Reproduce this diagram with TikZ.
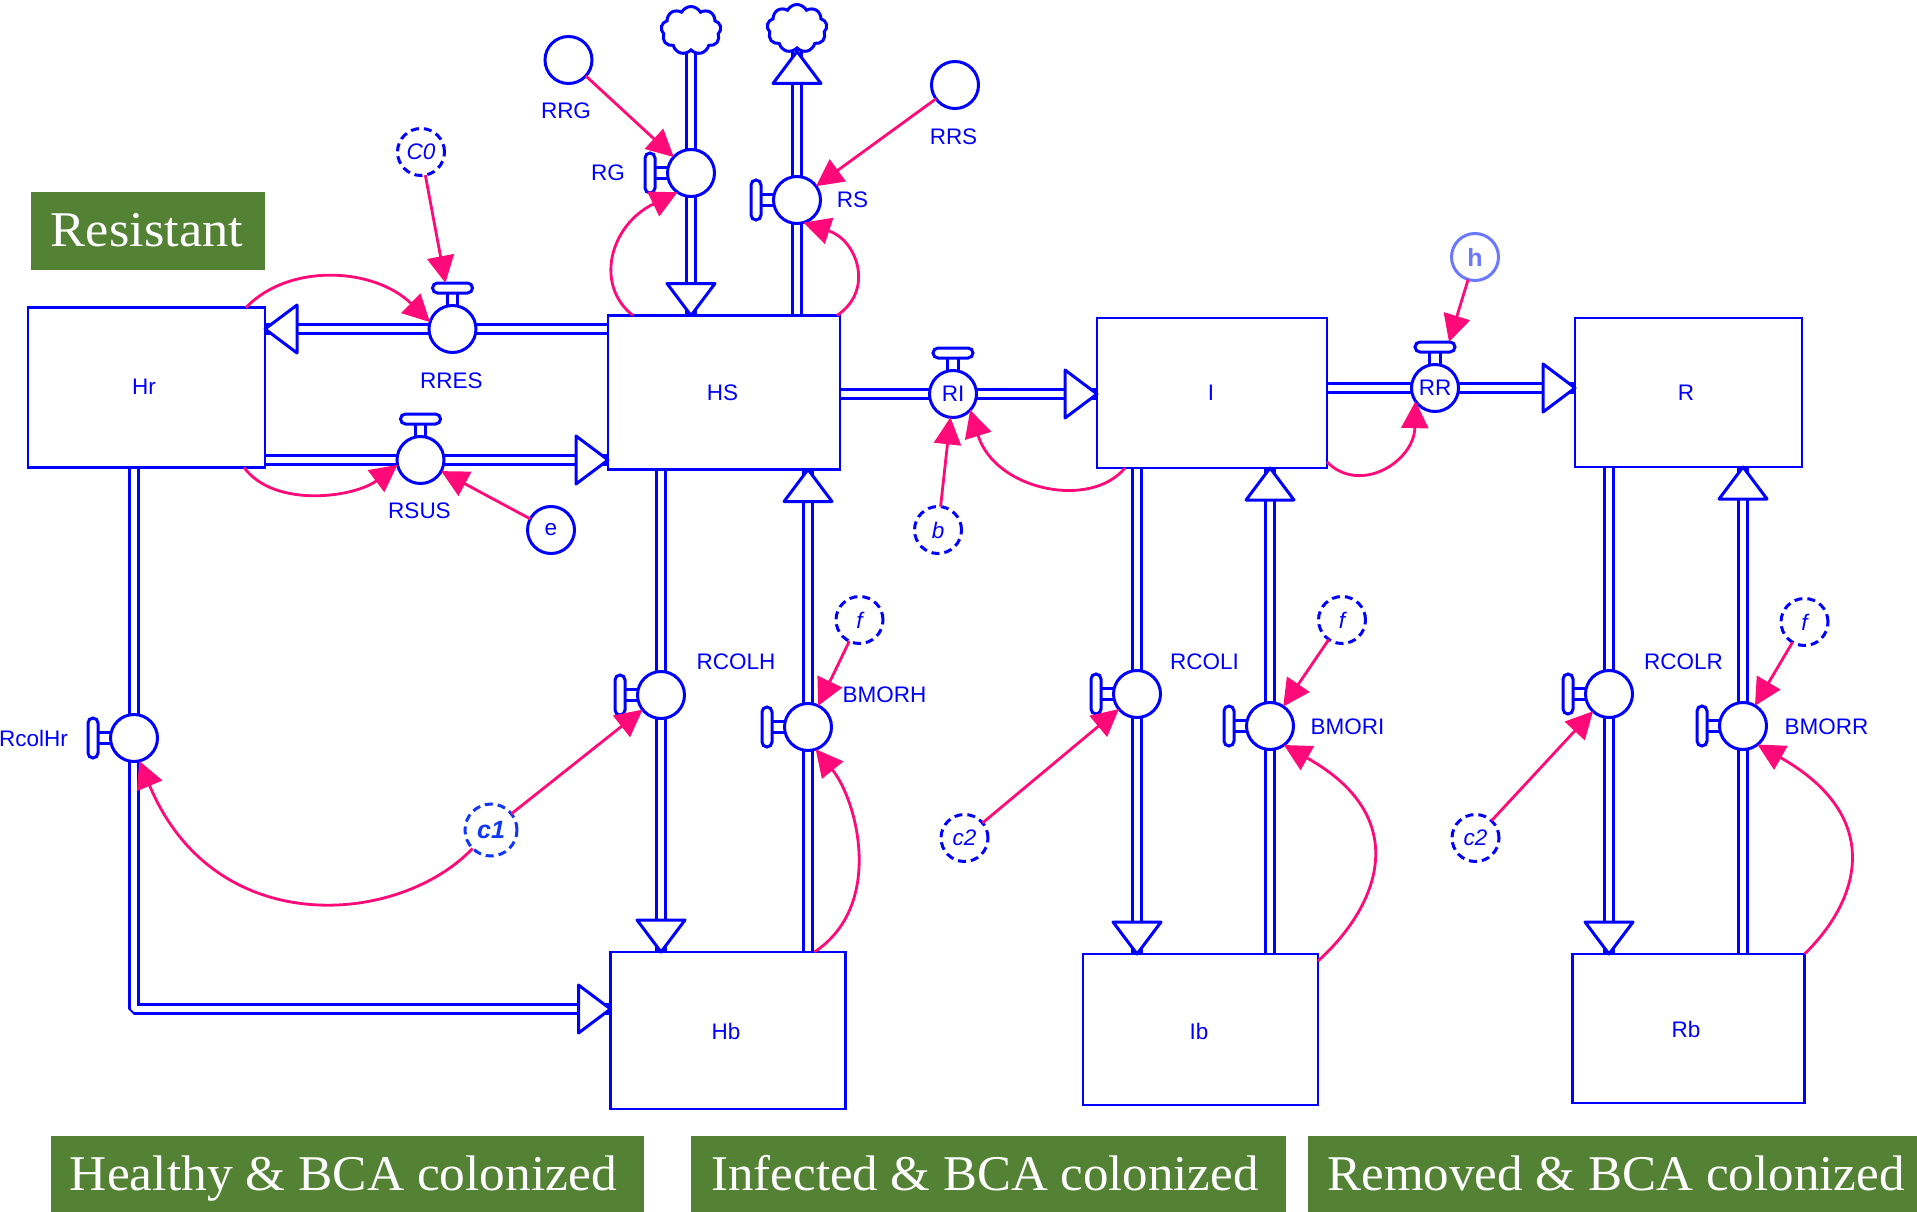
\documentclass[tikz,border=0pt]{standalone}
\usepackage{fontspec}
\usepackage{graphicx}
\setmainfont{Liberation Sans}
\newfontfamily\bannerfont{Liberation Serif}
\usetikzlibrary{arrows.meta,calc,backgrounds,shapes.symbols}
\definecolor{flowblue}{RGB}{0,0,255}
\definecolor{infpink}{RGB}{255,10,120}
\definecolor{bannergreen}{RGB}{84,130,53}
\definecolor{paleblue}{RGB}{105,120,255}
\definecolor{cblue}{RGB}{15,55,245}
\tikzset{
  x=1pt,y=-1pt,
  every node/.style={font=\fontsize{22.5}{24}\selectfont,text=flowblue,inner sep=0pt,outer sep=0pt},
  stock/.style={draw=flowblue,line width=2.6pt,fill=white,line join=miter},
  valve/.style={circle,draw=flowblue,line width=3pt,fill=white,minimum size=47pt},
  aux/.style={circle,draw=flowblue,line width=3pt,fill=white,minimum size=47pt},
  dashaux/.style={aux,dash pattern=on 8pt off 5pt},
  handleV/.style={rectangle,rounded corners=5pt,draw=flowblue,line width=3pt,fill=white,minimum width=10pt,minimum height=40pt},
  handleH/.style={rectangle,rounded corners=5pt,draw=flowblue,line width=3pt,fill=white,minimum width=40pt,minimum height=10pt},
  stem/.style={draw=flowblue,line width=3pt,double=white,double distance=7.5pt},
  pipe/.style={draw=flowblue,line width=3pt,double=white,double distance=6.4pt},
  phead/.style={draw=flowblue,line width=3pt,fill=white,line join=round},
  inf/.style={draw=infpink,line width=2.8pt,-{Triangle[length=27pt,width=27pt,fill=infpink]}},
  banner/.style={rectangle,fill=bannergreen,inner sep=0pt},
  bannertext/.style={text=white,anchor=base,font=\bannerfont\fontsize{50}{54}\selectfont},
  puff/.style={cloud,cloud puffs=9,cloud puff arc=125,aspect=1.35,draw=flowblue,line width=3pt,fill=white,minimum width=60pt,minimum height=48pt}
}
\newcommand{\headD}[1]{\draw[phead] #1 -- ++(-24,-32) -- ++(48,0) -- cycle;}
\newcommand{\headU}[1]{\draw[phead] #1 -- ++(-24,32) -- ++(48,0) -- cycle;}
\newcommand{\headR}[1]{\draw[phead] #1 -- ++(-32,-24) -- ++(0,48) -- cycle;}
\newcommand{\headL}[1]{\draw[phead] #1 -- ++(32,-24) -- ++(0,48) -- cycle;}
\begin{document}
\begin{tikzpicture}
\useasboundingbox (0,0) rectangle (1917,1212);
% banners
\node[banner,minimum width=234pt,minimum height=78pt,anchor=north west] (bnR) at (31,192) {};
\node[banner,minimum width=593pt,minimum height=76pt,anchor=north west] (bnH) at (51,1136) {};
\node[banner,minimum width=595pt,minimum height=76pt,anchor=north west] (bnI) at (691,1136) {};
\node[banner,minimum width=609pt,minimum height=76pt,anchor=north west] (bnQ) at (1308,1136) {};
\node[bannertext] (tR) at (147,246) {\resizebox{192pt}{\height}{Resistant}};
\node[bannertext] (tH) at (343.5,1190) {\resizebox{547pt}{\height}{Healthy \& BCA colonized}};
\node[bannertext] (tI) at (985,1190) {\resizebox{547pt}{\height}{Infected \& BCA colonized}};
\node[bannertext] (tQ) at (1616,1190) {\resizebox{577pt}{\height}{Removed \& BCA colonized}};
% stocks
\node[stock,minimum width=237pt,minimum height=160pt] (Hr) at (146.5,387.5) {};
\node[stock,minimum width=232pt,minimum height=154pt] (HS) at (724,392.5) {};
\node[stock,minimum width=230pt,minimum height=150pt] (I) at (1212,393) {};
\node[stock,minimum width=227pt,minimum height=149pt] (R) at (1688.5,392.5) {};
\node[stock,minimum width=235pt,minimum height=157pt] (Hb) at (728,1030.5) {};
\node[stock,minimum width=235pt,minimum height=151pt] (Ib) at (1200.5,1029.5) {};
\node[stock,minimum width=232pt,minimum height=149pt] (Rb) at (1688.5,1028.5) {};
% valves
\node[valve] (RG) at (691,173) {};
\node[valve] (RS) at (797,200) {};
\node[valve] (RRES) at (452.5,329) {};
\node[valve] (RSUS) at (420.5,460) {};
\node[valve] (RI) at (953,394) {RI};
\node[valve] (RR) at (1435,388) {RR};
\node[valve] (RcolHr) at (134,738) {};
\node[valve] (RCOLH) at (661,695) {};
\node[valve] (BMORH) at (808,727) {};
\node[valve] (RCOLI) at (1137,694) {};
\node[valve] (BMORI) at (1270,726) {};
\node[valve] (RCOLR) at (1609,694) {};
\node[valve] (BMORR) at (1743,726) {};
% handles
\node[handleV] (hRG) at ($(RG)+(-41,0)$) {};
\node[handleV] (hRS) at ($(RS)+(-41,0)$) {};
\node[handleV] (hRcolHr) at ($(RcolHr)+(-41,0)$) {};
\node[handleV] (hRCOLH) at ($(RCOLH)+(-41,0)$) {};
\node[handleV] (hBMORH) at ($(BMORH)+(-41,0)$) {};
\node[handleV] (hRCOLI) at ($(RCOLI)+(-41,0)$) {};
\node[handleV] (hBMORI) at ($(BMORI)+(-41,0)$) {};
\node[handleV] (hRCOLR) at ($(RCOLR)+(-41,0)$) {};
\node[handleV] (hBMORR) at ($(BMORR)+(-41,0)$) {};
\node[handleH] (hRRES) at ($(RRES)+(0,-41)$) {};
\node[handleH] (hRSUS) at ($(RSUS)+(0,-41)$) {};
\node[handleH] (hRI) at ($(RI)+(0,-41)$) {};
\node[handleH] (hRR) at ($(RR)+(0,-41)$) {};
% clouds
\node[puff] (cloudA) at (691,30.5) {};
\node[puff] (cloudB) at (797,28.5) {};
% auxiliaries
\node[aux] (RRG) at (568.5,60) {};
\node[aux] (RRS) at (955,85) {};
\node[dashaux] (C0) at (421,152) {\itshape C0};
\node[aux] (e) at (551,530) {e};
\node[aux,draw=paleblue,text=paleblue] (h) at (1475,257) {\fontsize{25}{27}\selectfont\bfseries h};
\node[dashaux] (b) at (938,530) {\itshape b};
\node[dashaux] (fH) at (859.5,620) {\itshape f};
\node[dashaux] (fI) at (1342,620) {\itshape f};
\node[dashaux] (fR) at (1804.5,622) {\itshape f};
\node[dashaux,minimum size=52pt,draw=cblue,text=cblue] (c1) at (491,830) {\fontsize{25}{27}\selectfont\bfseries\itshape c1};
\node[dashaux] (c2I) at (964.5,838) {\itshape c2};
\node[dashaux] (c2R) at (1475.5,838) {\itshape c2};
% labels
\begin{scope}[yshift=-1pt]
\node (lHr) at (144,386) {Hr};
\node (lHS) at (722.5,392) {HS};
\node (lI) at (1211,392) {I};
\node (lR) at (1686,392) {R};
\node (lHb) at (726,1030) {Hb};
\node (lIb) at (1199,1030) {Ib};
\node (lRb) at (1686,1028) {Rb};
\node (lRRG) at (566,109.5) {RRG};
\node (lRRS) at (953.5,136) {RRS};
\node (lRG) at (608,171.5) {RG};
\node (lRS) at (852.5,199) {RS};
\node (lRRES) at (451.5,379.5) {RRES};
\node (lRSUS) at (419.5,510) {RSUS};
\node (lRCOLH) at (736,660.5) {RCOLH};
\node (lBMORH) at (884.5,693.5) {BMORH};
\node (lRcolHr) at (33.5,737.5) {RcolHr};
\node (lRCOLI) at (1204.5,660.5) {RCOLI};
\node (lBMORI) at (1347.5,725.5) {BMORI};
\node (lRCOLR) at (1683.5,660.5) {RCOLR};
\node (lBMORR) at (1826.5,725.5) {BMORR};
\end{scope}
\coordinate (bendHb) at (134,1009);
\coordinate (tipB) at ($(cloudB.south)+(0,3.5)$);
% pipes under the nodes
\begin{scope}[on background layer]
\draw[pipe] (cloudA.center) -- (RG |- HS.north);
\draw[pipe] (RS |- HS.north) -- (cloudB.center);
\draw[pipe] (HS.west |- RRES) -- (Hr.east |- RRES);
\draw[pipe] (Hr.east |- RSUS) -- (HS.west |- RSUS);
\draw[pipe] (HS.east |- RI) -- (I.west |- RI);
\draw[pipe] (I.east |- RR) -- (R.west |- RR);
\draw[pipe] (RCOLH |- HS.south) -- (RCOLH |- Hb.north);
\draw[pipe] (BMORH |- Hb.north) -- (BMORH |- HS.south);
\draw[pipe] (RCOLI |- I.south) -- (RCOLI |- Ib.north);
\draw[pipe] (BMORI |- Ib.north) -- (BMORI |- I.south);
\draw[pipe] (RCOLR |- R.south) -- (RCOLR |- Rb.north);
\draw[pipe] (BMORR |- Rb.north) -- (BMORR |- R.south);
\draw[pipe,line join=bevel] (RcolHr |- Hr.south) -- (bendHb) -- (Hb.west |- bendHb);
\draw[stem] (hRG) -- (RG);
\draw[stem] (hRS) -- (RS);
\draw[stem] (hRcolHr) -- (RcolHr);
\draw[stem] (hRCOLH) -- (RCOLH);
\draw[stem] (hBMORH) -- (BMORH);
\draw[stem] (hRCOLI) -- (RCOLI);
\draw[stem] (hBMORI) -- (BMORI);
\draw[stem] (hRCOLR) -- (RCOLR);
\draw[stem] (hBMORR) -- (BMORR);
\draw[stem] (hRRES) -- (RRES);
\draw[stem] (hRSUS) -- (RSUS);
\draw[stem] (hRI) -- (RI);
\draw[stem] (hRR) -- (RR);
\end{scope}
% arrow heads of the flows
\headD{(RG |- HS.north)}
\headU{(tipB)}
\headL{(Hr.east |- RRES)}
\headR{(HS.west |- RSUS)}
\headR{(I.west |- RI)}
\headR{(R.west |- RR)}
\headD{(RCOLH |- Hb.north)}
\headU{(BMORH |- HS.south)}
\headD{(RCOLI |- Ib.north)}
\headU{(BMORI |- I.south)}
\headD{(RCOLR |- Rb.north)}
\headU{(BMORR |- R.south)}
\headR{(Hb.west |- bendHb)}
% influences
\draw[inf] (RRG) -- (RG);
\draw[inf] (RRS) -- (RS);
\draw[inf] (e) -- (RSUS);
\draw[inf] (b) -- (RI);
\draw[inf] (C0) -- ([xshift=-7pt]hRRES.north);
\draw[inf] (h) -- ([xshift=14pt]hRR.north);
\draw[inf] (c1) -- (RCOLH);
\draw[inf] (c2I) -- (RCOLI);
\draw[inf] (c2R) -- (RCOLR);
\draw[inf] (fH) -- (BMORH);
\draw[inf] (fI) -- (BMORI);
\draw[inf] (fR) -- (BMORR);
\draw[inf] ([xshift=25pt]HS.north west) .. controls (594,285) and (610,225) .. (RG.235);
\draw[inf] ([xshift=-3pt]HS.north east) .. controls (875,290) and (857,240) .. (RS.286);
\draw[inf] ([xshift=-19pt]Hr.north east) .. controls (290,262) and (375,268) .. (RRES.163);
\draw[inf] ([xshift=-21pt]Hr.south east) .. controls (275,509) and (355,497) .. (RSUS.192);
\draw[inf] ([xshift=28pt]I.south west) .. controls (1090,510) and (995,490) .. (RI.317);
\draw[inf] ([yshift=6pt]I.south east) .. controls (1360,495) and (1414,462) .. (RR.214);
\draw[inf] (c1.225) .. controls (400,925) and (215,942) .. (RcolHr.283);
\draw[inf] ([xshift=-31pt]Hb.north east) .. controls (885,905) and (857,800) .. (BMORH.289);
\draw[inf] ([yshift=-7pt]Ib.north east) .. controls (1380,905) and (1413,817) .. (BMORI.306);
\draw[inf] (Rb.north east) .. controls (1860,900) and (1885,817) .. (BMORR.308);
\end{tikzpicture}
\end{document}
